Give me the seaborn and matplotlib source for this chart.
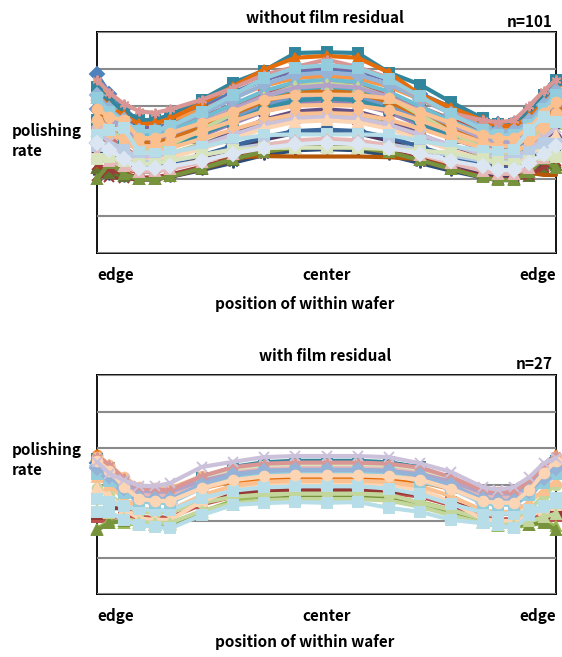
import matplotlib.pyplot as plt
import seaborn as sns

sns.set_style("white")
plt.rcParams["font.family"] = ["Noto Sans CJK JP", "DejaVu Sans"]
plt.rcParams["text.color"] = "black"
plt.rcParams["xtick.color"] = "black"
plt.rcParams["xtick.labelcolor"] = "black"

# measurement positions across the wafer (mm from center)
X_POS = [-147, -139, -130, -120, -110, -100, -80, -60, -40, -20, 0,
         20, 40, 60, 80, 100, 110, 120, 130, 139, 147]
X_TICKS = [-147, 0, 147]
X_TICK_LABELS = ["edge", "center", "edge"]

# --- without film residual (only the distinguishable profiles of n=101) ---
t01 = [4.85, 4.33, 3.94, 3.55, 3.57, 3.67, 3.99, 4.35, 4.71, 4.94, 5.00, 4.94, 4.70, 4.33, 3.95, 3.62, 3.50, 3.50, 3.78, 4.22, 4.60]
t02 = [4.40, 3.96, 3.63, 3.30, 3.32, 3.40, 3.69, 4.02, 4.34, 4.55, 4.60, 4.54, 4.32, 3.97, 3.62, 3.31, 3.20, 3.20, 3.48, 3.92, 4.30]
t03 = [4.20, 3.80, 3.50, 3.20, 3.22, 3.30, 3.56, 3.86, 4.16, 4.35, 4.40, 4.35, 4.14, 3.82, 3.49, 3.20, 3.10, 3.10, 3.35, 3.75, 4.10]
t04 = [4.50, 4.06, 3.73, 3.40, 3.42, 3.53, 3.90, 4.31, 4.72, 4.98, 5.05, 4.98, 4.71, 4.29, 3.86, 3.49, 3.35, 3.35, 3.64, 4.10, 4.50]
t05 = [4.10, 3.70, 3.40, 3.10, 3.12, 3.21, 3.52, 3.87, 4.22, 4.44, 4.50, 4.44, 4.20, 3.83, 3.45, 3.12, 3.00, 3.00, 3.30, 3.78, 4.20]
t06 = [4.60, 4.16, 3.83, 3.50, 3.52, 3.60, 3.89, 4.22, 4.54, 4.75, 4.80, 4.74, 4.52, 4.17, 3.82, 3.51, 3.40, 3.40, 3.70, 4.18, 4.60]
t07 = [2.20, 2.12, 2.06, 2.00, 2.00, 2.07, 2.25, 2.45, 2.66, 2.79, 2.82, 2.79, 2.65, 2.44, 2.23, 2.05, 1.98, 1.98, 2.14, 2.38, 2.60]
t08 = [2.10, 2.06, 2.03, 2.00, 2.00, 2.07, 2.28, 2.51, 2.74, 2.88, 2.92, 2.88, 2.74, 2.51, 2.28, 2.07, 2.00, 2.00, 2.11, 2.29, 2.45]
t09 = [2.30, 2.18, 2.09, 2.00, 2.00, 2.08, 2.29, 2.52, 2.76, 2.91, 2.95, 2.91, 2.76, 2.52, 2.29, 2.08, 2.00, 2.00, 2.10, 2.26, 2.40]
t10 = [2.60, 2.44, 2.32, 2.20, 2.22, 2.29, 2.53, 2.81, 3.08, 3.26, 3.30, 3.25, 3.05, 2.74, 2.43, 2.15, 2.05, 2.05, 2.21, 2.47, 2.70]
t11 = [4.50, 4.14, 3.87, 3.60, 3.62, 3.75, 4.16, 4.62, 4.95, 5.43, 5.45, 5.43, 4.90, 4.57, 4.09, 3.66, 3.50, 3.50, 3.80, 4.28, 4.70]
t12 = [2.35, 2.30, 2.25, 2.22, 2.28, 2.38, 2.55, 2.60, 2.63, 2.62, 2.62, 2.62, 2.60, 2.55, 2.45, 2.35, 2.28, 2.22, 2.18, 2.12, 2.12]
t13 = [3.90, 3.50, 3.20, 2.90, 2.92, 3.01, 3.32, 3.67, 4.02, 4.24, 4.30, 4.24, 4.00, 3.63, 3.25, 2.92, 2.80, 2.80, 3.08, 3.52, 3.90]
t14 = [3.50, 3.14, 2.87, 2.60, 2.62, 2.69, 2.93, 3.21, 3.48, 3.66, 3.70, 3.65, 3.46, 3.16, 2.86, 2.60, 2.50, 2.50, 2.78, 3.22, 3.60]
t15 = [3.30, 3.02, 2.81, 2.60, 2.62, 2.70, 2.96, 3.26, 3.56, 3.75, 3.80, 3.75, 3.54, 3.22, 2.89, 2.60, 2.50, 2.50, 2.75, 3.15, 3.50]
t16 = [3.80, 3.40, 3.10, 2.80, 2.82, 2.90, 3.19, 3.52, 3.84, 4.05, 4.10, 4.04, 3.82, 3.47, 3.12, 2.81, 2.70, 2.70, 2.98, 3.42, 3.80]
t17 = [4.30, 3.86, 3.53, 3.20, 3.22, 3.32, 3.65, 4.03, 4.40, 4.64, 4.70, 4.64, 4.38, 3.98, 3.58, 3.23, 3.10, 3.10, 3.40, 3.88, 4.30]
t18 = [4.30, 3.98, 3.74, 3.50, 3.52, 3.65, 4.06, 4.52, 4.98, 5.30, 5.35, 5.30, 4.90, 4.30, 3.95, 3.60, 3.45, 3.45, 3.69, 4.07, 4.40]
t19 = [3.00, 2.74, 2.55, 2.35, 2.37, 2.43, 2.65, 2.90, 3.15, 3.31, 3.35, 3.31, 3.14, 2.88, 2.62, 2.38, 2.30, 2.30, 2.50, 2.82, 3.10]
t20 = [2.40, 2.26, 2.16, 2.05, 2.05, 2.13, 2.34, 2.57, 2.81, 2.96, 3.00, 2.96, 2.80, 2.55, 2.30, 2.08, 2.00, 2.00, 2.13, 2.33, 2.50]
t21 = [2.00, 2.45, 2.15, 2.00, 2.00, 2.08, 2.30, 2.55, 2.75, 2.86, 2.88, 2.86, 2.74, 2.52, 2.28, 2.05, 1.98, 1.98, 2.20, 2.55, 2.30]
t22 = [3.10, 2.86, 2.68, 2.50, 2.52, 2.61, 2.92, 3.27, 3.62, 3.84, 3.90, 3.84, 3.60, 3.23, 2.85, 2.52, 2.40, 2.40, 2.63, 2.99, 3.30]
t23 = [3.60, 3.28, 3.04, 2.80, 2.82, 2.91, 3.22, 3.57, 3.92, 4.14, 4.20, 4.14, 3.90, 3.53, 3.15, 2.82, 2.70, 2.70, 2.95, 3.35, 3.70]
t24 = [3.90, 3.54, 3.27, 3.00, 3.02, 3.11, 3.42, 3.77, 4.12, 4.34, 4.40, 4.34, 4.10, 3.73, 3.35, 3.02, 2.90, 2.90, 3.18, 3.62, 4.00]
t25 = [4.30, 3.90, 3.60, 3.30, 3.32, 3.43, 3.78, 4.18, 4.58, 4.84, 4.90, 4.84, 4.58, 4.18, 3.78, 3.43, 3.30, 3.30, 3.58, 4.02, 4.40]
t26 = [4.70, 4.35, 4.05, 3.85, 3.80, 3.90, 4.16, 4.48, 4.84, 5.05, 5.25, 5.05, 4.75, 4.20, 3.80, 3.60, 3.55, 3.60, 4.00, 4.40, 4.70]
t27 = [3.70, 3.34, 3.07, 2.80, 2.82, 2.94, 3.34, 3.79, 4.24, 4.53, 4.60, 4.52, 4.22, 3.75, 3.27, 2.85, 2.70, 2.70, 2.98, 3.42, 3.80]
t28 = [4.00, 3.64, 3.37, 3.10, 3.12, 3.22, 3.54, 3.90, 4.26, 4.49, 4.55, 4.49, 4.24, 3.85, 3.47, 3.12, 3.00, 3.00, 3.28, 3.72, 4.10]
t29 = [4.20, 3.84, 3.57, 3.30, 3.32, 3.44, 3.84, 4.29, 4.74, 5.03, 5.10, 5.02, 4.72, 4.25, 3.77, 3.35, 3.20, 3.20, 3.48, 3.92, 4.30]
t30 = [3.90, 3.70, 3.60, 3.12, 3.12, 3.26, 3.53, 3.83, 4.16, 4.29, 4.30, 4.29, 4.20, 3.83, 3.53, 3.20, 3.12, 3.12, 3.40, 3.80, 4.10]
t31 = [3.60, 3.40, 3.30, 2.90, 2.90, 3.02, 3.30, 3.58, 3.85, 4.00, 4.02, 4.00, 3.88, 3.60, 3.30, 3.00, 2.90, 2.90, 3.15, 3.55, 3.80]
t32 = [3.40, 3.20, 3.10, 2.75, 2.75, 2.85, 3.10, 3.35, 3.60, 3.77, 3.80, 3.77, 3.62, 3.38, 3.10, 2.85, 2.75, 2.75, 2.95, 3.30, 3.55]
t33 = [3.30, 3.02, 2.81, 2.60, 2.62, 2.69, 2.93, 3.21, 3.48, 3.66, 3.70, 3.66, 3.48, 3.21, 2.93, 2.69, 2.60, 2.60, 2.80, 3.12, 3.40]
t34 = [3.10, 2.86, 2.68, 2.50, 2.52, 2.59, 2.83, 3.10, 3.38, 3.56, 3.60, 3.55, 3.37, 3.08, 2.80, 2.54, 2.45, 2.45, 2.64, 2.94, 3.20]
t35 = [3.20, 3.35, 3.40, 2.75, 2.70, 2.74, 2.88, 3.07, 3.20, 3.22, 3.22, 3.22, 3.20, 3.05, 2.90, 2.78, 2.74, 2.80, 3.34, 3.70, 3.55]
t36 = [2.90, 2.85, 2.80, 2.50, 2.45, 2.50, 2.65, 2.82, 2.95, 3.00, 3.02, 3.00, 2.95, 2.80, 2.65, 2.50, 2.45, 2.50, 2.75, 3.00, 2.95]
t37 = [2.70, 2.50, 2.35, 2.20, 2.22, 2.27, 2.47, 2.70, 2.92, 3.06, 3.10, 3.06, 2.91, 2.67, 2.44, 2.23, 2.15, 2.15, 2.31, 2.57, 2.80]
t38 = [2.55, 2.60, 2.50, 2.42, 2.42, 2.50, 2.66, 2.80, 2.85, 2.86, 2.86, 2.86, 2.82, 2.78, 2.72, 2.55, 2.47, 2.42, 2.50, 2.65, 2.60]
t39 = [3.00, 2.80, 2.55, 2.30, 2.30, 2.35, 2.50, 2.70, 2.85, 2.95, 3.00, 2.95, 2.85, 2.70, 2.50, 2.35, 2.25, 2.25, 2.45, 2.70, 2.90]

# --- with film residual (n=27) ---
b01 = [3.60, 3.39, 3.05, 2.79, 2.75, 2.75, 3.03, 3.20, 3.28, 3.30, 3.30, 3.30, 3.27, 3.17, 2.95, 2.64, 2.60, 2.60, 2.93, 3.37, 3.70]
b02 = [2.10, 2.10, 2.10, 2.10, 2.10, 2.10, 2.45, 2.67, 2.77, 2.80, 2.80, 2.80, 2.77, 2.67, 2.43, 2.09, 2.05, 2.05, 2.08, 2.12, 2.15]
b03 = [1.78, 2.00, 1.95, 1.90, 1.88, 1.90, 2.25, 2.55, 2.72, 2.75, 2.71, 2.68, 2.63, 2.52, 2.30, 1.95, 1.86, 1.84, 1.88, 2.00, 1.85]
b04 = [3.40, 3.10, 2.80, 2.62, 2.65, 2.75, 2.92, 3.15, 3.35, 3.45, 3.48, 3.45, 3.40, 3.25, 3.00, 2.70, 2.58, 2.60, 2.80, 3.20, 3.55]
b05 = [3.50, 3.20, 2.90, 2.70, 2.63, 2.70, 2.95, 3.30, 3.55, 3.62, 3.62, 3.62, 3.60, 3.45, 3.10, 2.80, 2.65, 2.65, 2.85, 3.25, 3.60]
b06 = [3.80, 3.50, 3.02, 2.66, 2.60, 2.60, 2.89, 3.08, 3.16, 3.18, 3.18, 3.18, 3.15, 3.07, 2.87, 2.58, 2.55, 2.55, 2.91, 3.39, 3.75]
b07 = [3.70, 3.45, 3.05, 2.75, 2.70, 2.70, 3.18, 3.48, 3.61, 3.65, 3.65, 3.65, 3.61, 3.47, 3.15, 2.70, 2.65, 2.65, 2.95, 3.35, 3.65]
b08 = [2.20, 2.35, 2.35, 2.30, 2.30, 2.30, 2.58, 2.75, 2.83, 2.85, 2.85, 2.85, 2.82, 2.72, 2.52, 2.23, 2.20, 2.20, 2.20, 2.20, 2.20]
b09 = [1.75, 1.95, 2.00, 1.95, 1.90, 1.92, 2.20, 2.45, 2.60, 2.64, 2.64, 2.64, 2.60, 2.45, 2.20, 1.98, 1.90, 1.88, 1.90, 1.95, 1.75]
b10 = [3.80, 3.53, 3.09, 2.76, 2.70, 2.70, 2.95, 3.11, 3.18, 3.20, 3.20, 3.20, 3.18, 3.09, 2.90, 2.63, 2.60, 2.60, 2.96, 3.44, 3.80]
b11 = [3.50, 3.25, 2.85, 2.55, 2.50, 2.50, 2.90, 3.16, 3.27, 3.30, 3.30, 3.30, 3.27, 3.15, 2.88, 2.49, 2.45, 2.45, 2.74, 3.12, 3.40]
b12 = [3.75, 3.54, 3.20, 2.94, 2.90, 2.90, 3.22, 3.42, 3.50, 3.53, 3.53, 3.53, 3.50, 3.41, 3.17, 2.84, 2.80, 2.80, 3.09, 3.47, 3.75]
b13 = [3.50, 3.28, 2.92, 2.65, 2.60, 2.60, 2.95, 3.17, 3.27, 3.30, 3.30, 3.30, 3.27, 3.17, 2.93, 2.59, 2.55, 2.55, 2.84, 3.22, 3.50]
b14 = [3.30, 3.16, 2.94, 2.78, 2.75, 2.75, 3.15, 3.41, 3.52, 3.55, 3.55, 3.55, 3.52, 3.40, 3.13, 2.74, 2.70, 2.70, 2.91, 3.19, 3.40]
b15 = [2.90, 2.70, 2.45, 2.25, 2.22, 2.25, 2.50, 2.66, 2.73, 2.75, 2.75, 2.75, 2.72, 2.50, 2.30, 2.05, 2.00, 2.00, 2.30, 2.70, 3.00]
b16 = [3.60, 3.38, 3.02, 2.75, 2.70, 2.70, 3.08, 3.32, 3.42, 3.45, 3.45, 3.45, 3.42, 3.31, 3.05, 2.69, 2.65, 2.65, 2.95, 3.35, 3.65]
b17 = [2.90, 2.68, 2.33, 2.07, 2.03, 2.03, 2.54, 2.86, 3.00, 3.04, 3.04, 3.04, 3.00, 2.85, 2.52, 2.05, 2.00, 2.00, 2.13, 2.31, 2.44]
b18 = [3.20, 2.98, 2.62, 2.35, 2.30, 2.30, 2.70, 2.96, 3.07, 3.10, 3.10, 3.10, 3.07, 2.95, 2.68, 2.29, 2.25, 2.25, 2.51, 2.85, 3.10]
b19 = [3.55, 3.36, 3.06, 2.84, 2.80, 2.80, 3.10, 3.29, 3.38, 3.40, 3.40, 3.40, 3.37, 3.28, 3.08, 2.78, 2.75, 2.75, 3.01, 3.35, 3.60]
b20 = [2.60, 2.53, 2.41, 2.32, 2.30, 2.30, 2.63, 2.83, 2.92, 2.95, 2.95, 2.95, 2.89, 2.73, 2.46, 2.24, 2.20, 2.20, 2.29, 2.41, 2.50]
b21 = [3.30, 3.10, 2.78, 2.54, 2.50, 2.50, 2.93, 3.20, 3.32, 3.35, 3.35, 3.35, 3.31, 3.08, 2.90, 2.50, 2.45, 2.45, 2.71, 3.05, 3.30]
b22 = [2.30, 2.21, 2.07, 1.97, 1.95, 1.95, 2.28, 2.48, 2.57, 2.60, 2.60, 2.60, 2.56, 2.39, 2.15, 1.94, 1.90, 1.90, 1.99, 2.11, 2.20]
b23 = [3.75, 3.53, 3.17, 2.90, 2.85, 2.85, 3.23, 3.47, 3.57, 3.60, 3.60, 3.60, 3.57, 3.46, 3.20, 2.84, 2.80, 2.80, 3.10, 3.50, 3.80]
b24 = [3.45, 3.24, 2.90, 2.64, 2.60, 2.60, 3.00, 3.26, 3.37, 3.40, 3.40, 3.40, 3.37, 3.25, 2.98, 2.59, 2.55, 2.55, 2.82, 3.18, 3.45]
b25 = [3.65, 3.38, 2.94, 2.61, 2.55, 2.55, 2.90, 3.12, 3.22, 3.25, 3.25, 3.25, 3.22, 3.13, 2.88, 2.54, 2.50, 2.50, 2.85, 3.31, 3.65]
b26 = [3.62, 3.30, 3.12, 2.97, 2.95, 3.04, 3.48, 3.62, 3.75, 3.78, 3.78, 3.78, 3.75, 3.58, 3.34, 2.93, 2.85, 2.93, 3.20, 3.58, 3.72]
b27 = [2.25, 2.25, 2.03, 1.89, 1.84, 1.80, 2.16, 2.44, 2.49, 2.52, 2.50, 2.52, 2.36, 2.25, 2.03, 1.94, 1.89, 1.80, 2.16, 2.38, 2.63]

TOP_SERIES = [t01, t02, t03, t04, t05, t06, t07, t08, t09, t10, t11, t12, t13,
              t14, t15, t16, t17, t18, t19, t20, t21, t22, t23, t24, t25, t26,
              t27, t28, t29, t30, t31, t32, t33, t34, t35, t36, t37, t38, t39]
BOTTOM_SERIES = [b01, b02, b03, b04, b05, b06, b07, b08, b09, b10, b11, b12, b13,
                 b14, b15, b16, b17, b18, b19, b20, b21, b22, b23, b24, b25, b26, b27]

# styles (Excel-like series colours and markers)
AST = (6, 2, 0)
TOP_COLORS = ["#4F81BD", "#C0504D", "#9BBB59", "#8064A2", "#4BACC6", "#F79646",
              "#2C4D75", "#953735", "#5F7530", "#4D3B62", "#31859C", "#B65708",
              "#729ACA", "#CD7371", "#AFC97A", "#9983B5", "#6FBDD1", "#E46C0A",
              "#3A679C", "#9F3B38", "#77933C", "#664F83", "#358EA6", "#D37015",
              "#95B3D7", "#D99694", "#C3D69B", "#B3A2C7", "#93CDDD", "#FAC090",
              "#FAC090", "#FAC090", "#CCC1DA", "#FCD5B5", "#B7DEE8", "#B9CDE5",
              "#E6B9B8", "#D7E4BD", "#DCE6F2"]
TOP_MARKERS = ["D", "s", "^", "x", AST, "o", AST, "x", "^", "x", "s", "",
               "D", "s", "^", "x", AST, "^", "D", "x", "^", "x", "s", "o",
               "D", AST, "^", "x", "s", "o", "o", "o", "x", "^", "s", "s",
               "^", "s", "D"]
BOTTOM_COLORS = ["#4F81BD", "#C0504D", "#9BBB59", "#8064A2", "#4BACC6", "#F79646",
                 "#31859C", "#953735", "#77933C", "#E46C0A", "#B9CDE5", "#FAC090",
                 "#FAC090", "#D7E4BD", "#C3D69B", "#E6B9B8", "#FCD5B5", "#FAC090",
                 "#B3A2C7", "#B7DEE8", "#93CDDD", "#C3D69B", "#D99694", "#95B3D7",
                 "#FCD5B5", "#CCC1DA", "#B7DEE8"]
BOTTOM_MARKERS = ["D", "s", "^", "x", AST, "o", "s", "s", "^", "^", "D", "o",
                  "o", "o", "o", AST, "^", "^", "x", "s", "s", "^", AST, "D",
                  "o", "x", "s"]


def draw_panel(ax, series, colors, markers):
    for vals, color, marker in zip(series, colors, markers):
        sns.lineplot(x=X_POS, y=vals, ax=ax, color=color, marker=marker,
                     markersize=7, markeredgecolor=color, markeredgewidth=1.4,
                     linewidth=3.0, estimator=None, sort=False, clip_on=False)
    ax.set_xlim(-147, 147)
    ax.set_ylim(0, 6)
    ax.set_yticks(range(7))
    ax.set_yticklabels([])
    ax.yaxis.grid(True, color="#8a8a8a", linewidth=1.5)
    ax.set_xticks(X_TICKS)
    labels = ax.set_xticklabels(X_TICK_LABELS, fontsize=11, fontweight="bold",
                                color="black")
    labels[0].set_ha("left")
    labels[2].set_ha("right")
    ax.tick_params(length=0, pad=10)
    for spine in ax.spines.values():
        spine.set_color("black")
        spine.set_linewidth(1.3)
        spine.set_zorder(0.5)


fig = plt.figure(figsize=(5.62, 6.57), dpi=100)
ax_top = fig.add_axes([97 / 562, 1 - 253 / 657, 459 / 562, 221 / 657])
ax_bot = fig.add_axes([97 / 562, 1 - 594 / 657, 459 / 562, 219 / 657])

draw_panel(ax_top, TOP_SERIES, TOP_COLORS, TOP_MARKERS)
draw_panel(ax_bot, BOTTOM_SERIES, BOTTOM_COLORS, BOTTOM_MARKERS)

txt = dict(fontsize=11, fontweight="bold", color="black")
for y_title, title, y_n, n_label, y_lab, y_x in [
        (18, "without film residual", 22, "n=101", 141, 304),
        (356, "with film residual", 364, "n=27", 460, 642)]:
    fig.text(325 / 562, 1 - y_title / 657, title, ha="center", va="center", **txt)
    fig.text(553 / 562, 1 - y_n / 657, n_label, ha="right", va="center", **txt)
    fig.text(12 / 562, 1 - y_lab / 657, "polishing\nrate", ha="left", va="center",
             linespacing=1.35, **txt)
    fig.text(305 / 562, 1 - y_x / 657, "position of within wafer", ha="center",
             va="center", **txt)

fig.savefig("out.png", dpi=100)
